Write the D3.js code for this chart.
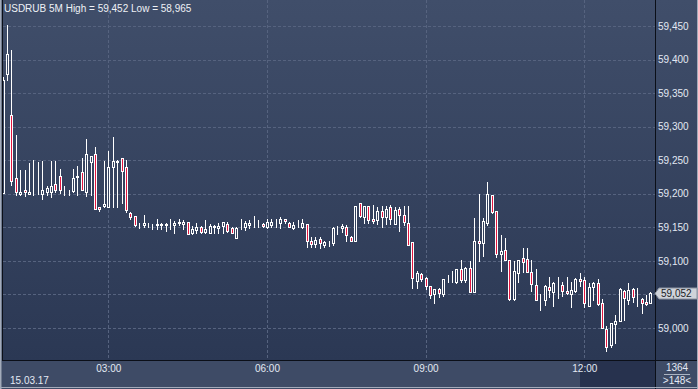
<!DOCTYPE html>
<html>
<head>
<meta charset="utf-8">
<script src="https://cdn.jsdelivr.net/npm/d3@7"></script>
<style>
  html, body { margin: 0; padding: 0; background: #2f3c58; }
  svg { display: block; font-family: "Liberation Sans", Arial, sans-serif; }
</style>
</head>
<body>
<svg id="chart" width="698" height="389"></svg>
<script>
// USDRUB 5M candles, 15.03.17, 01:00 .. 13:15
const symbol = "USDRUB 5M";
const sessionDate = "15.03.17";
const opens = [
  59.201, 59.378, 59.317, 59.224, 59.199, 59.205, 59.199, 59.199, 59.199, 59.199,
  59.202, 59.202, 59.215, 59.226, 59.203, 59.205, 59.204, 59.225, 59.232, 59.202,
  59.248, 59.259, 59.181, 59.182, 59.181, 59.240, 59.248, 59.253, 59.240, 59.172,
  59.167, 59.156, 59.154, 59.153, 59.154, 59.153, 59.153, 59.153, 59.156, 59.153,
  59.158, 59.155, 59.158, 59.141, 59.146, 59.151, 59.143, 59.142, 59.152, 59.149,
  59.152, 59.155, 59.149, 59.134, 59.155, 59.151, 59.154, 59.156, 59.155, 59.155,
  59.150, 59.153, 59.160, 59.157, 59.162, 59.157, 59.149, 59.155, 59.151, 59.155,
  59.130, 59.125, 59.133, 59.123, 59.125, 59.127, 59.145, 59.149, 59.151, 59.136,
  59.130, 59.186, 59.166, 59.182, 59.163, 59.161, 59.174, 59.165, 59.180, 59.155,
  59.177, 59.168, 59.157, 59.128, 59.070, 59.080, 59.075, 59.062, 59.051, 59.058,
  59.051, 59.073, 59.071, 59.069, 59.088, 59.072, 59.090, 59.054, 59.130, 59.126,
  59.156, 59.198, 59.175, 59.111, 59.116, 59.101, 59.043, 59.082, 59.104, 59.103,
  59.083, 59.064, 59.041, 59.042, 59.061, 59.054, 59.064, 59.064, 59.055, 59.051,
  59.055, 59.073, 59.072, 59.033, 59.061, 59.067, 59.037, 58.999, 58.974, 59.006,
  59.011, 59.055, 59.042, 59.058, 59.046, 59.043, 59.038, 59.037
];
const highs = [
  59.374, 59.452, 59.414, 59.288, 59.235, 59.235, 59.246, 59.250, 59.248, 59.249,
  59.212, 59.249, 59.249, 59.237, 59.211, 59.205, 59.237, 59.241, 59.253, 59.282,
  59.256, 59.269, 59.181, 59.249, 59.264, 59.284, 59.250, 59.253, 59.250, 59.173,
  59.167, 59.157, 59.168, 59.156, 59.155, 59.162, 59.156, 59.157, 59.163, 59.159,
  59.163, 59.161, 59.158, 59.152, 59.157, 59.152, 59.161, 59.155, 59.153, 59.156,
  59.158, 59.158, 59.151, 59.151, 59.163, 59.160, 59.161, 59.167, 59.161, 59.157,
  59.162, 59.162, 59.163, 59.165, 59.162, 59.158, 59.158, 59.161, 59.162, 59.155,
  59.135, 59.136, 59.135, 59.130, 59.130, 59.150, 59.152, 59.155, 59.153, 59.137,
  59.182, 59.187, 59.182, 59.182, 59.183, 59.181, 59.182, 59.182, 59.184, 59.181,
  59.181, 59.182, 59.182, 59.128, 59.085, 59.082, 59.076, 59.062, 59.058, 59.059,
  59.073, 59.079, 59.085, 59.088, 59.101, 59.091, 59.100, 59.164, 59.200, 59.164,
  59.217, 59.198, 59.175, 59.139, 59.134, 59.101, 59.100, 59.102, 59.119, 59.119,
  59.102, 59.088, 59.051, 59.064, 59.076, 59.068, 59.076, 59.068, 59.076, 59.069,
  59.074, 59.082, 59.076, 59.067, 59.069, 59.073, 59.043, 59.003, 59.008, 59.020,
  59.060, 59.057, 59.067, 59.059, 59.059, 59.045, 59.049, 59.054
];
const lows = [
  59.201, 59.370, 59.213, 59.198, 59.198, 59.197, 59.199, 59.198, 59.199, 59.192,
  59.198, 59.195, 59.202, 59.201, 59.198, 59.198, 59.202, 59.198, 59.205, 59.197,
  59.198, 59.178, 59.175, 59.181, 59.181, 59.181, 59.181, 59.187, 59.173, 59.163,
  59.152, 59.149, 59.150, 59.150, 59.148, 59.148, 59.148, 59.145, 59.147, 59.142,
  59.154, 59.148, 59.140, 59.140, 59.142, 59.141, 59.141, 59.141, 59.142, 59.142,
  59.142, 59.143, 59.141, 59.134, 59.148, 59.146, 59.149, 59.150, 59.150, 59.150,
  59.149, 59.151, 59.150, 59.149, 59.156, 59.150, 59.148, 59.151, 59.149, 59.120,
  59.121, 59.121, 59.119, 59.120, 59.122, 59.124, 59.140, 59.143, 59.130, 59.129,
  59.129, 59.166, 59.157, 59.156, 59.156, 59.155, 59.151, 59.155, 59.155, 59.155,
  59.145, 59.153, 59.123, 59.060, 59.060, 59.070, 59.058, 59.044, 59.037, 59.046,
  59.047, 59.068, 59.069, 59.067, 59.069, 59.069, 59.053, 59.054, 59.100, 59.108,
  59.153, 59.171, 59.106, 59.085, 59.102, 59.041, 59.041, 59.069, 59.084, 59.084,
  59.055, 59.041, 59.027, 59.034, 59.046, 59.033, 59.044, 59.048, 59.051, 59.032,
  59.054, 59.063, 59.032, 59.033, 59.042, 59.034, 59.000, 58.965, 58.972, 58.977,
  59.011, 59.012, 59.036, 59.039, 59.033, 59.023, 59.034, 59.037
];
const closes = [
  59.370, 59.408, 59.219, 59.202, 59.202, 59.202, 59.202, 59.199, 59.199, 59.205,
  59.209, 59.212, 59.205, 59.205, 59.203, 59.205, 59.224, 59.227, 59.205, 59.259,
  59.256, 59.178, 59.178, 59.185, 59.240, 59.249, 59.249, 59.234, 59.176, 59.165,
  59.153, 59.156, 59.157, 59.153, 59.154, 59.155, 59.155, 59.155, 59.156, 59.157,
  59.156, 59.158, 59.140, 59.148, 59.151, 59.143, 59.148, 59.152, 59.150, 59.152,
  59.158, 59.145, 59.141, 59.149, 59.155, 59.157, 59.157, 59.156, 59.155, 59.152,
  59.158, 59.158, 59.160, 59.163, 59.159, 59.151, 59.153, 59.155, 59.156, 59.129,
  59.125, 59.131, 59.126, 59.128, 59.125, 59.149, 59.145, 59.152, 59.138, 59.130,
  59.182, 59.167, 59.182, 59.161, 59.160, 59.175, 59.166, 59.178, 59.162, 59.176,
  59.168, 59.158, 59.123, 59.075, 59.082, 59.073, 59.063, 59.049, 59.058, 59.052,
  59.073, 59.073, 59.072, 59.088, 59.072, 59.090, 59.054, 59.130, 59.126, 59.159,
  59.199, 59.173, 59.110, 59.115, 59.102, 59.043, 59.085, 59.101, 59.099, 59.084,
  59.065, 59.041, 59.041, 59.063, 59.056, 59.067, 59.064, 59.055, 59.052, 59.056,
  59.073, 59.070, 59.037, 59.061, 59.067, 59.036, 59.000, 58.972, 59.007, 59.010,
  59.058, 59.044, 59.057, 59.046, 59.046, 59.037, 59.036, 59.052
];
const yTicks = [59.000, 59.050, 59.100, 59.150, 59.200, 59.250, 59.300, 59.350, 59.400, 59.450];
const xTickHours = [3, 6, 9, 12];
const barCount = "1364";

const W = 698, H = 389;
const plot = { left: 3, right: 655, top: 0, bottom: 360 };
const FONT = "10px";

const svg = d3.select("#chart");
const defs = svg.append("defs");

// user-space gradient so hollow candle bodies show the same background
const bg = defs.append("linearGradient").attr("id", "bg")
  .attr("gradientUnits", "userSpaceOnUse")
  .attr("x1", 0).attr("y1", 0).attr("x2", 0).attr("y2", plot.bottom);
bg.append("stop").attr("offset", "0%").attr("stop-color", "#404e6a");
bg.append("stop").attr("offset", "100%").attr("stop-color", "#2b3854");

defs.append("clipPath").attr("id", "plotClip")
  .append("rect")
  .attr("x", plot.left).attr("y", plot.top)
  .attr("width", plot.right - plot.left).attr("height", plot.bottom - plot.top);

// background
svg.append("rect").attr("width", W).attr("height", plot.bottom).attr("fill", "url(#bg)");
svg.append("rect").attr("y", plot.bottom).attr("width", W).attr("height", H - plot.bottom)
  .attr("fill", "#3e4b66");

const day = (h, m) => new Date(2017, 2, 15, h, m || 0);
const start = day(1, 0);
const candles = opens.map((o, i) => ({
  t: d3.timeMinute.offset(start, 5 * i),
  o, h: highs[i], l: lows[i], c: closes[i]
}));

const x = d3.scaleTime().domain([day(3), day(12)]).range([108.3, 584.3]);
const y = d3.scaleLinear().domain([59.0, 59.45]).range([328, 26]);

// highlighted last period on the time strip
const hlX = Math.round(x(day(11, 55)) + 0.5);
svg.append("rect")
  .attr("x", hlX).attr("y", plot.bottom + 1)
  .attr("width", plot.right - hlX)
  .attr("height", H - plot.bottom - 3)
  .attr("fill", "#27324e");

// grid
const grid = svg.append("g").attr("stroke", "#56637f").attr("stroke-dasharray", "3,2")
  .attr("shape-rendering", "crispEdges");
grid.selectAll("line.h").data(yTicks).join("line")
  .attr("x1", plot.left).attr("x2", plot.right)
  .attr("y1", d => Math.round(y(d)) + 0.5).attr("y2", d => Math.round(y(d)) + 0.5);
grid.selectAll("line.v").data(xTickHours).join("line")
  .attr("y1", plot.top).attr("y2", plot.bottom)
  .attr("x1", d => Math.round(x(day(d))) + 0.5).attr("x2", d => Math.round(x(day(d))) + 0.5);

// candles
const g = svg.append("g").attr("clip-path", "url(#plotClip)").attr("shape-rendering", "crispEdges");
const cx = d => Math.round(x(d.t));
g.selectAll("line.wick").data(candles).join("line")
  .attr("x1", d => cx(d) + 0.5).attr("x2", d => cx(d) + 0.5)
  .attr("y1", d => Math.round(y(d.h))).attr("y2", d => Math.round(y(d.l)) + 1)
  .attr("stroke", "#ffffff");
g.selectAll("rect.body").data(candles).join("rect")
  .attr("x", d => cx(d) - 0.5)
  .attr("width", 2)
  .attr("y", d => Math.round(y(Math.max(d.o, d.c))) + 0.5)
  .attr("height", d => Math.max(0, Math.round(y(Math.min(d.o, d.c))) - Math.round(y(Math.max(d.o, d.c)))))
  .attr("fill", d => d.c < d.o ? "#e3163f" : "url(#bg)")
  .attr("stroke", "#ffffff");

// frame
const frame = svg.append("g").attr("stroke", "#0b0f18").attr("shape-rendering", "crispEdges");
frame.append("line").attr("x1", plot.left - 0.5).attr("x2", plot.left - 0.5).attr("y1", 0).attr("y2", plot.bottom);
frame.append("line").attr("x1", plot.right + 0.5).attr("x2", plot.right + 0.5).attr("y1", 0).attr("y2", H);
frame.append("line").attr("x1", plot.left - 1).attr("x2", W).attr("y1", plot.bottom + 0.5).attr("y2", plot.bottom + 0.5);
const outer = svg.append("g").attr("stroke", "#a3abba").attr("fill", "none").attr("shape-rendering", "crispEdges");
outer.append("line").attr("x1", 0.5).attr("x2", 0.5).attr("y1", 0).attr("y2", H);
outer.append("line").attr("x1", 1.5).attr("x2", 1.5).attr("y1", 0).attr("y2", H).attr("stroke", "#6f7a8e");
outer.append("line").attr("x1", W - 0.5).attr("x2", W - 0.5).attr("y1", 0).attr("y2", H);
outer.append("line").attr("x1", 0).attr("x2", W).attr("y1", H - 1.5).attr("y2", H - 1.5);

// last price (its marker hides the axis label underneath)
const last = closes[closes.length - 1];
const ly = Math.round(y(last)) + 0.5;

// axes
const ruLocale = d3.formatLocale({ decimal: ",", thousands: " ", grouping: [3], currency: ["", ""] });
const fmt = ruLocale.format(".3f");
const yAxis = svg.append("g").attr("transform", `translate(${plot.right + 2},0)`)
  .call(d3.axisRight(y).tickValues(yTicks.filter(v => Math.abs(y(v) - ly) > 9))
    .tickFormat(fmt).tickSize(0).tickPadding(1));
yAxis.select(".domain").remove();
yAxis.selectAll("text").attr("fill", "#e3e9f3").style("font-size", FONT)
  .style("font-family", "'Liberation Sans', Arial, sans-serif");

const xAxis = svg.append("g").attr("transform", `translate(0,${plot.bottom})`)
  .call(d3.axisBottom(x).tickValues(xTickHours.map(h => day(h))).tickFormat(d3.timeFormat("%H:%M")).tickSize(0).tickPadding(5));
xAxis.select(".domain").remove();
xAxis.selectAll("text").attr("fill", "#e3e9f3").style("font-size", FONT)
  .style("font-family", "'Liberation Sans', Arial, sans-serif");

// title
const hi = d3.max(highs), lo = d3.min(lows);
svg.append("text").attr("x", 4).attr("y", 12)
  .attr("fill", "#eef1f6").style("font-size", FONT)
  .text(`${symbol} High = ${fmt(hi)} Low = ${fmt(lo)}`);

svg.append("text").attr("x", 10).attr("y", 384)
  .attr("fill", "#e3e9f3").style("font-size", FONT).text(sessionDate);

// bar counters
svg.append("text").attr("x", 677).attr("y", 371).attr("text-anchor", "middle")
  .attr("fill", "#e3e9f3").style("font-size", FONT).text(barCount);
svg.append("line").attr("x1", 664).attr("x2", 690).attr("y1", 374.5).attr("y2", 374.5)
  .attr("stroke", "#aab3c2").attr("shape-rendering", "crispEdges");
svg.append("text").attr("x", 677).attr("y", 384).attr("text-anchor", "middle")
  .attr("fill", "#e3e9f3").style("font-size", FONT).text(`>${candles.length}<`);

// last price marker
svg.append("path")
  .attr("d", `M${plot.right},${ly} L${plot.right + 4},${ly - 5.5} L${W - 1},${ly - 5.5} L${W - 1},${ly + 5.5} L${plot.right + 4},${ly + 5.5} Z`)
  .attr("fill", "#cfd3da").attr("stroke", "#8a92a0");
svg.append("text").attr("x", plot.right + 6).attr("y", ly + 3.5)
  .attr("fill", "#1a1d24").style("font-size", FONT).text(fmt(last));
</script>
</body>
</html>
